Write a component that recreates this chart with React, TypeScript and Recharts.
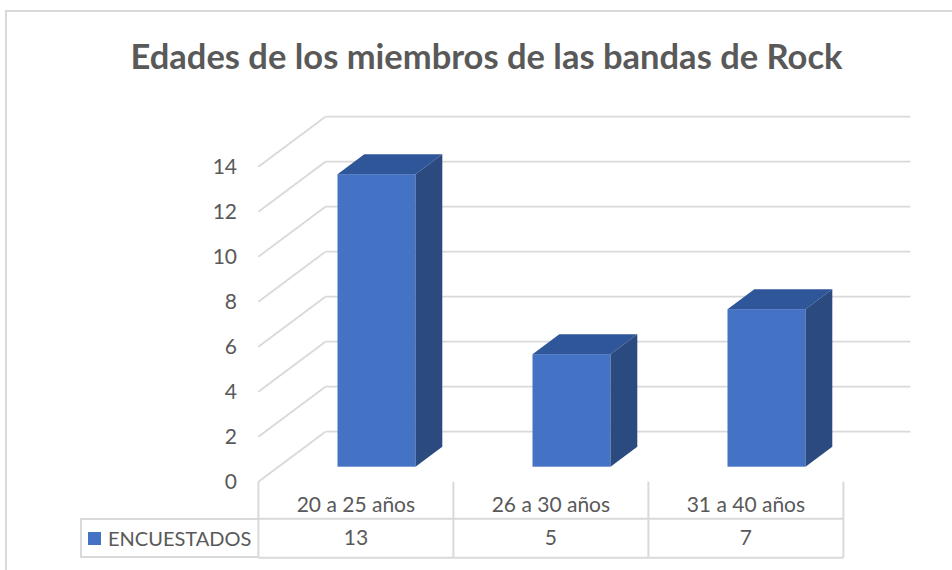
import React from 'react';
import { BarChart, Bar, XAxis, YAxis, CartesianGrid, Legend } from 'recharts';

const categories = ['20 a 25 años', '26 a 30 años', '31 a 40 años'];
const encuestados = [13, 5, 7];
const yTicks = [0, 2, 4, 6, 8, 10, 12, 14];
const seriesName = 'ENCUESTADOS';
const title = 'Edades de los miembros de las bandas de Rock';

const data = categories.map((c, i) => ({ name: c, [seriesName]: encuestados[i] }));

// 3D look: depth of the floor/walls and where the bars sit inside it
const DEPTH_X = 67;
const DEPTH_Y = 50;
const BAR_FRONT = 0.3;
const BAR_DEPTH = 0.4;

const FONT = 'Lato, "Open Sans", sans-serif';
const TEXT = '#595959';
const LINE = '#d9d9d9';
const FRONT = '#4472C4';
const TOP = '#30569A';
const SIDE = '#2A4A80';

function Bar3D(props: any) {
  const { x, y, width, height } = props;
  const dx = DEPTH_X * BAR_DEPTH;
  const dy = DEPTH_Y * BAR_DEPTH;
  const r = x + width;
  const b = y + height;
  return (
    <g>
      <rect x={x} y={y} width={width} height={height} fill={FRONT} />
      <polygon points={`${x},${y} ${x + dx},${y - dy} ${r + dx},${y - dy} ${r},${y}`} fill={TOP} />
      <polygon points={`${r},${y} ${r + dx},${y - dy} ${r + dx},${b - dy} ${r},${b}`} fill={SIDE} />
    </g>
  );
}

// wall grid line: diagonal on the side wall, then straight across the back wall
function WallLine(props: any) {
  const { x1, x2, y1 } = props;
  const fx = x1 - DEPTH_X * BAR_FRONT;
  const fy = y1 + DEPTH_Y * BAR_FRONT;
  const bx = fx + DEPTH_X;
  const by = fy - DEPTH_Y;
  return (
    <g key={`wall-${y1}`}>
      <line x1={fx} y1={fy} x2={bx} y2={by} stroke={LINE} strokeWidth={1.8} />
      <line x1={bx} y1={by} x2={x2 + DEPTH_X * (1 - BAR_FRONT)} y2={by} stroke={LINE} strokeWidth={1.8} />
    </g>
  );
}

function ValueTick(props: any) {
  const { x, y, payload } = props;
  return (
    <text x={x} y={y + DEPTH_Y * BAR_FRONT} dy="0.35em" textAnchor="end" fill={TEXT} fontSize={21} fontFamily={FONT}>
      {payload.value}
    </text>
  );
}

function TableTick(props: any) {
  const { x, y, payload, index, width } = props;
  const colW = width / categories.length;
  const cx = x - DEPTH_X * BAR_FRONT;
  const top = y + DEPTH_Y * BAR_FRONT;
  const mid = top + 37;
  const bottom = mid + 39;
  const left = cx - colW / 2;
  const right = cx + colW / 2;
  return (
    <g>
      <line x1={left} y1={top} x2={left} y2={bottom} stroke={LINE} strokeWidth={2} />
      {index === categories.length - 1 && (
        <line x1={right} y1={top} x2={right} y2={bottom} stroke={LINE} strokeWidth={2} />
      )}
      <line x1={left} y1={mid} x2={right} y2={mid} stroke={LINE} strokeWidth={2} />
      <line x1={left} y1={bottom} x2={right} y2={bottom} stroke={LINE} strokeWidth={2} />
      <text x={cx} y={top + 23} dy="0.35em" textAnchor="middle" fill={TEXT} fontSize={21} fontFamily={FONT}>
        {payload.value}
      </text>
      <text x={cx} y={mid + 19} dy="0.35em" textAnchor="middle" fill={TEXT} fontSize={21} fontFamily={FONT}>
        {encuestados[index]}
      </text>
    </g>
  );
}

function LegendCell(props: any) {
  const item = (props.payload || [])[0];
  if (!item) return null;
  return (
    <div
      style={{
        boxSizing: 'border-box',
        width: 179,
        height: 40,
        borderTop: `2px solid ${LINE}`,
        borderBottom: `2px solid ${LINE}`,
        borderLeft: `2px solid ${LINE}`,
        display: 'flex',
        alignItems: 'center',
        paddingLeft: 6,
        fontFamily: FONT,
        fontSize: 20,
        color: TEXT,
      }}
    >
      <span style={{ display: 'inline-block', width: 13, height: 13, background: item.color, marginRight: 7 }} />
      {item.value}
    </div>
  );
}

export default function App() {
  return (
    <div style={{ position: 'absolute', left: 0, top: 0, width: 952, height: 570, background: '#fff', overflow: 'hidden' }}>
      <div
        style={{
          position: 'absolute',
          left: 5,
          top: 10,
          width: 1000,
          height: 600,
          borderTop: `2px solid ${LINE}`,
          borderLeft: `2px solid ${LINE}`,
        }}
      />
      <div
        style={{
          position: 'absolute',
          left: 0,
          top: 36,
          width: 973,
          textAlign: 'center',
          fontFamily: FONT,
          fontWeight: 700,
          fontSize: 34.5,
          color: TEXT,
          lineHeight: '40px',
        }}
      >
        {title}
      </div>
      <BarChart width={952} height={570} data={data} margin={{ top: 151.7, right: 88.5, bottom: 0, left: 0 }}>
        <CartesianGrid vertical={false} horizontal={WallLine} />
        <XAxis
          dataKey="name"
          height={103.3}
          axisLine={false}
          tickLine={false}
          tickSize={0}
          tickMargin={0}
          interval={0}
          tick={<TableTick />}
        />
        <YAxis
          width={278.5}
          domain={[0, 14]}
          ticks={yTicks}
          axisLine={false}
          tickLine={false}
          tickSize={0}
          tickMargin={41.5}
          tick={<ValueTick />}
        />
        <Legend
          layout="horizontal"
          verticalAlign="middle"
          align="center"
          wrapperStyle={{ position: 'absolute', left: 80, top: 518, width: 179, height: 40 }}
          content={<LegendCell />}
        />
        <Bar dataKey={seriesName} fill={FRONT} barSize={78} shape={<Bar3D />} isAnimationActive={false} />
      </BarChart>
    </div>
  );
}
